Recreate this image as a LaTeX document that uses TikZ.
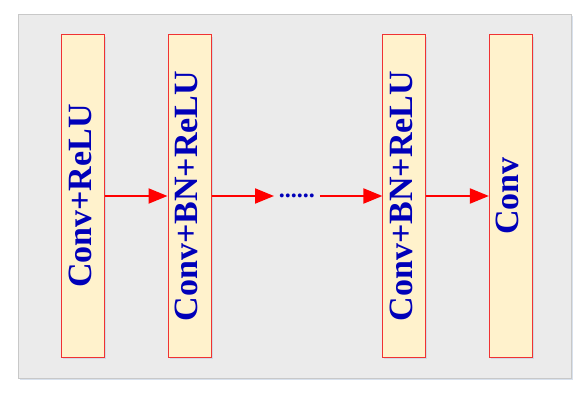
\documentclass[tikz,border=0pt]{standalone}
\usepackage{fontspec}
\setmainfont{Liberation Serif}
\usepackage{graphicx}
\usepackage{tikz}
\usetikzlibrary{arrows.meta,positioning,shadows}
\definecolor{bgGray}{RGB}{235,235,235}
\definecolor{bgLine}{RGB}{200,200,200}
\definecolor{blkFill}{RGB}{255,242,204}
\definecolor{blkLine}{RGB}{240,50,50}
\definecolor{txtBlue}{RGB}{0,0,185}
\definecolor{shdBlue}{RGB}{190,205,225}

\begin{document}
\begin{tikzpicture}[x=1pt, y=-1pt, node distance=5mm and 62.5pt, blk/.style={draw=blkLine,fill=blkFill,line width=1pt,minimum width=43pt,minimum height=322pt,inner sep=0pt,text=txtBlue,font=\fontsize{34}{40}\selectfont\bfseries,drop shadow={shadow xshift=1.5pt,shadow yshift=-2pt,fill=shdBlue,opacity=0.6}}, gap/.style={minimum width=45.5pt,inner sep=0pt,text=txtBlue,font=\fontsize{24}{28}\selectfont\bfseries}, arr/.style={-{Triangle[length=19pt,width=15pt]},line width=2pt,red}]
\useasboundingbox (0,0) rectangle (585,395);
\draw[draw=bgLine,fill=bgGray,drop shadow={shadow xshift=1.5pt,shadow yshift=-2pt,fill=shdBlue,opacity=0.6}] (18,14) rectangle (571,378);
\node[blk] (c1) at (83,196) {\rotatebox{90}{\strut Conv+ReLU}};
\node[blk,right=of c1] (c2) {\rotatebox{90}{\strut Conv+BN+ReLU}};
\node[gap,right=of c2] (dd) {......};
\node[blk,right=of dd] (c3) {\rotatebox{90}{\strut Conv+BN+ReLU}};
\node[blk,right=of c3] (c4) {\rotatebox{90}{\strut Conv}};
\draw[arr] (c1)--(c2); \draw[arr] (c2)--(dd); \draw[arr] (dd)--(c3); \draw[arr] (c3)--(c4);
\end{tikzpicture}
\end{document}
